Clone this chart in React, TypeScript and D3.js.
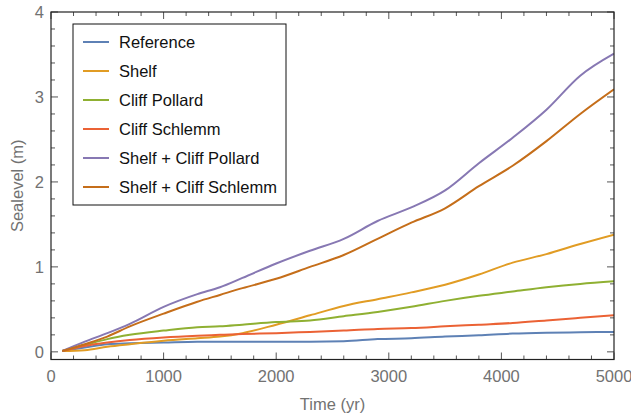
import React from 'react';
import * as d3 from 'd3';

const width = 631;
const height = 416;
const margin = { top: 12, right: 17, bottom: 56.5, left: 51 };

const years = [100, 300, 500, 700, 1000, 1300, 1500, 1700, 2000, 2300, 2600, 2900, 3200, 3500, 3800, 4100, 4400, 4700, 5000];

const reference = [0.01, 0.05, 0.09, 0.1, 0.11, 0.12, 0.12, 0.12, 0.12, 0.12, 0.125, 0.15, 0.16, 0.18, 0.195, 0.215, 0.225, 0.23, 0.235];
const shelf = [0.01, 0.02, 0.06, 0.09, 0.13, 0.16, 0.18, 0.22, 0.32, 0.43, 0.54, 0.62, 0.7, 0.79, 0.91, 1.05, 1.15, 1.27, 1.38];
const cliffPollard = [0.01, 0.08, 0.15, 0.2, 0.25, 0.29, 0.3, 0.32, 0.35, 0.37, 0.42, 0.47, 0.53, 0.6, 0.66, 0.71, 0.76, 0.8, 0.83];
const cliffSchlemm = [0.01, 0.07, 0.11, 0.14, 0.17, 0.19, 0.2, 0.21, 0.22, 0.235, 0.25, 0.27, 0.28, 0.3, 0.32, 0.34, 0.37, 0.4, 0.43];
const shelfPollard = [0.01, 0.12, 0.22, 0.33, 0.53, 0.68, 0.76, 0.87, 1.04, 1.19, 1.33, 1.54, 1.7, 1.9, 2.22, 2.52, 2.85, 3.25, 3.51];
const shelfSchlemm = [0.01, 0.09, 0.18, 0.3, 0.45, 0.59, 0.67, 0.75, 0.86, 1.0, 1.14, 1.33, 1.52, 1.69, 1.95, 2.19, 2.48, 2.8, 3.09];

const seriesNames = ['Reference', 'Shelf', 'Cliff Pollard', 'Cliff Schlemm', 'Shelf + Cliff Pollard', 'Shelf + Cliff Schlemm'];
const seriesValues = [reference, shelf, cliffPollard, cliffSchlemm, shelfPollard, shelfSchlemm];
const colors = ['#5E81B5', '#E19C24', '#8FB032', '#EB6235', '#8778B3', '#C56E1A'];

const xMajor = [0, 1000, 2000, 3000, 4000, 5000];
const yMajor = [0, 1, 2, 3, 4];

const font = 'Liberation Sans, Arial, sans-serif';

export default function App() {
  const x = d3.scaleLinear().domain([0, 5000]).range([margin.left, width - margin.right]);
  const y = d3.scaleLinear().domain([-0.09, 4]).range([height - margin.bottom, margin.top]);

  const line = d3.line<number>()
    .x((_, i) => x(years[i]))
    .y(d => y(d))
    .curve(d3.curveMonotoneX);

  const x0 = x.range()[0], x1 = x.range()[1];
  const yb = y.range()[0], yt = y.range()[1];

  const xMinor = d3.range(0, 5001, 200).filter(t => !xMajor.includes(t));
  const yMinor = d3.range(0, 4.001, 0.2).map(v => +v.toFixed(1)).filter(v => !yMajor.includes(v));

  const tickColor = '#555';

  return (
    <svg width={width} height={height} style={{ position: 'absolute', left: 0, top: 0, background: '#fff' }}>
      {/* clipped curves */}
      <defs>
        <clipPath id="plot">
          <rect x={x0} y={yt} width={x1 - x0} height={yb - yt} />
        </clipPath>
      </defs>
      <g clipPath="url(#plot)">
        {seriesValues.map((vals, i) => (
          <path key={seriesNames[i]} d={line(vals) || ''} fill="none" stroke={colors[i]} strokeWidth={2} strokeLinejoin="round" />
        ))}
      </g>

      {/* ticks on all four sides, pointing inward */}
      <g stroke={tickColor} strokeWidth={1}>
        {xMajor.map(t => (
          <g key={'xM' + t}>
            <line x1={x(t)} x2={x(t)} y1={yb} y2={yb - 7} />
            <line x1={x(t)} x2={x(t)} y1={yt} y2={yt + 7} />
          </g>
        ))}
        {xMinor.map(t => (
          <g key={'xm' + t}>
            <line x1={x(t)} x2={x(t)} y1={yb} y2={yb - 4} />
            <line x1={x(t)} x2={x(t)} y1={yt} y2={yt + 4} />
          </g>
        ))}
        {yMajor.map(v => (
          <g key={'yM' + v}>
            <line x1={x0} x2={x0 + 7} y1={y(v)} y2={y(v)} />
            <line x1={x1} x2={x1 - 7} y1={y(v)} y2={y(v)} />
          </g>
        ))}
        {yMinor.map(v => (
          <g key={'ym' + v}>
            <line x1={x0} x2={x0 + 4} y1={y(v)} y2={y(v)} />
            <line x1={x1} x2={x1 - 4} y1={y(v)} y2={y(v)} />
          </g>
        ))}
      </g>

      <rect x={x0} y={yt} width={x1 - x0} height={yb - yt} fill="none" stroke="#222" strokeWidth={1.2} />

      {/* tick labels */}
      <g fill="#727272" fontFamily={font} fontSize={16.5}>
        {xMajor.map(t => (
          <text key={'xl' + t} x={x(t)} y={yb + 22} textAnchor="middle">{t}</text>
        ))}
        {yMajor.map(v => (
          <text key={'yl' + v} x={x0 - 7} y={y(v) + 6} textAnchor="end">{v}</text>
        ))}
        <text x={(x0 + x1) / 2} y={410} textAnchor="middle">Time (yr)</text>
        <text transform={`translate(23, ${(yt + yb) / 2}) rotate(-90)`} textAnchor="middle">Sealevel (m)</text>
      </g>

      {/* legend */}
      <g fontFamily={font} fontSize={16.5}>
        <rect x={73} y={24} width={213} height={181} fill="#fff" stroke="#111" strokeWidth={1} />
        {seriesNames.map((name, i) => (
          <g key={'lg' + name} transform={`translate(0, ${42 + i * 29})`}>
            <line x1={83} x2={109} y1={0} y2={0} stroke={colors[i]} strokeWidth={2} />
            <text x={119} y={6} fill="#111">{name}</text>
          </g>
        ))}
      </g>
    </svg>
  );
}
